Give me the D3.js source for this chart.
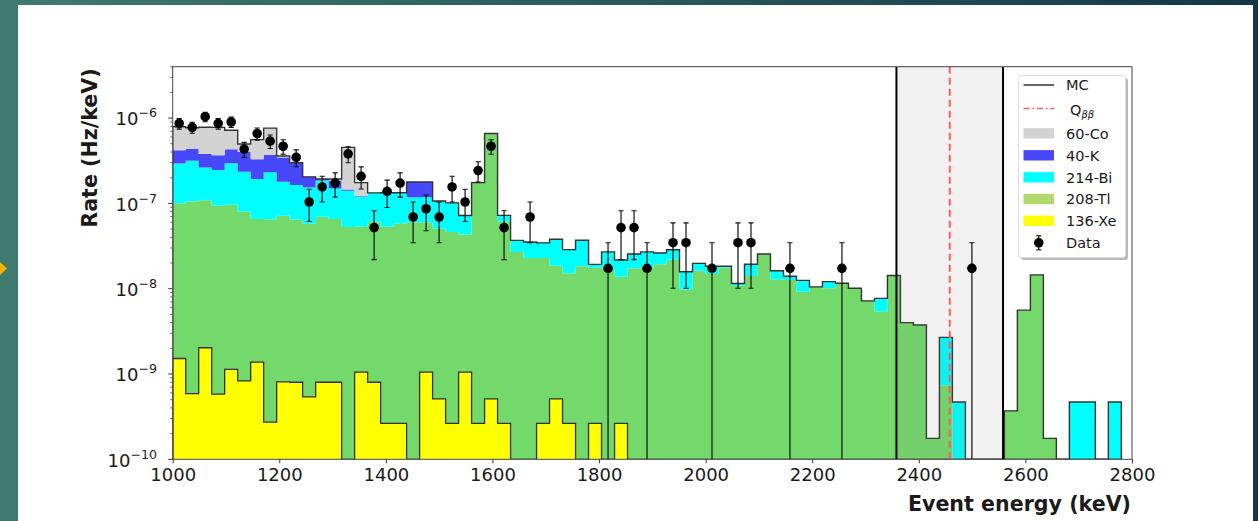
<!DOCTYPE html>
<html>
<head>
<meta charset="utf-8">
<script src="https://cdn.jsdelivr.net/npm/d3@7"></script>
<style>
  body { margin: 0; background: #fff; }
  svg { display: block; }
  text { font-family: "DejaVu Sans", sans-serif; fill: #1a1a1a; }
</style>
</head>
<body>
<svg id="chart" width="1258" height="521"></svg>
<script>
// binning of the histogram (keV)
var binLo = 1000
var binHi = 2780
var nBins = 73

// MC components, Hz/keV per bin
var xe = [1.52e-9, 5.9e-10, 2.03e-9, 5.8e-10, 1.13e-9, 8.3e-10, 1.38e-9, 2.73e-10, 8.1e-10, 8.0e-10,
          5.4e-10, 8.0e-10, 8.0e-10, 0, 1.05e-9, 8.0e-10, 2.64e-10, 2.64e-10, 0, 1.05e-9,
          5.1e-10, 2.64e-10, 1.05e-9, 2.64e-10, 5.1e-10, 2.64e-10, 0, 0, 2.64e-10, 5.1e-10,
          2.64e-10, 0, 2.64e-10, 0, 2.64e-10, 0, 0, 0, 0, 0,
          0, 0, 0, 0, 0, 0, 0, 0, 0, 0,
          0, 0, 0, 0, 0, 0, 0, 0, 0, 0,
          0, 0, 0, 0, 0, 0, 0, 0, 0, 0,
          0, 0, 0]
var tl = [9.85e-8, 1.05e-7, 1.07e-7, 9.4e-8, 9.5e-8, 7.9e-8, 6.4e-8, 6.5e-8, 7.1e-8, 6.4e-8,
          5.7e-8, 6.9e-8, 6.5e-8, 5.3e-8, 5.2e-8, 6.0e-8, 5.3e-8, 5.8e-8, 6.0e-8, 5.9e-8,
          5.0e-8, 4.6e-8, 4.2e-8, 1.75e-7, 6.6e-7, 6.1e-8, 2.7e-8, 2.29e-8, 2.26e-8, 1.81e-8,
          1.49e-8, 1.83e-8, 1.73e-8, 1.73e-8, 1.35e-8, 1.73e-8, 1.76e-8, 1.93e-8, 2.19e-8, 9.8e-9,
          1.62e-8, 1.49e-8, 1.76e-8, 1.08e-8, 1.41e-8, 2.55e-8, 1.29e-8, 1.26e-8, 9.2e-9, 1.05e-8,
          1.01e-8, 1.14e-8, 1.01e-8, 7.2e-9, 5.4e-9, 1.43e-8, 4.0e-9, 3.75e-9, 1.76e-10, 7.4e-10,
          0, 0, 0, 0, 3.7e-10, 5.6e-9, 1.45e-8, 1.76e-10, 0, 0,
          0, 0, 0]
var bi = [1.94e-7, 2.1e-7, 1.55e-7, 1.51e-7, 2.0e-7, 1.55e-7, 1.28e-7, 1.66e-7, 1.08e-7, 9.9e-8,
          9.6e-8, 1.15e-7, 8.4e-8, 8.8e-8, 6.7e-8, 7.2e-8, 8.0e-8, 7.5e-8, 5.8e-8, 5.8e-8,
          5.6e-8, 5.5e-8, 2.9e-8, 0, 0, 1.1e-8, 9.8e-9, 1.23e-8, 1.16e-8, 1.94e-8,
          1.35e-8, 1.87e-8, 1.7e-9, 9.7e-9, 7.9e-9, 8.2e-9, 9.4e-9, 6.9e-9, 6.7e-9, 6.0e-9,
          3.6e-9, 3.4e-9, 7e-10, 7e-10, 5.2e-9, 0, 3.3e-9, 1.4e-9, 3.3e-9, 0,
          2.0e-9, 2e-10, 0, 0, 2.3e-9, 0, 0, 0, 0, 1.95e-9,
          4.7e-10, 0, 0, 0, 0, 0, 0, 0, 0, 4.7e-10,
          4.7e-10, 0, 4.7e-10]
var k40 = [1.26e-7, 1.2e-7, 1.15e-7, 1.22e-7, 1.34e-7, 1.68e-7, 1.35e-7, 1.41e-7, 1.66e-7, 1.36e-7,
           5.1e-8, 8e-9, 3.5e-8, 4e-9, 2e-9, 0, 0, 0, 6.0e-8, 6.0e-8,
           0, 0, 0, 0, 0, 0, 0, 0, 0, 0,
           0, 0, 0, 0, 0, 0, 0, 0, 0, 0,
           0, 0, 0, 0, 0, 0, 0, 0, 0, 0,
           0, 0, 0, 0, 0, 0, 0, 0, 0, 0,
           0, 0, 0, 0, 0, 0, 0, 0, 0, 0,
           0, 0, 0]
var co = [3.7e-7, 3.34e-7, 4.0e-7, 4.1e-7, 2.9e-7, 9.3e-8, 2.3e-7, 3.9e-7, 1.3e-8, 0,
          0, 0, 8e-9, 3.08e-7, 5.3e-8, 0, 0, 0, 0, 0,
          0, 0, 0, 0, 0, 0, 0, 0, 0, 0,
          0, 0, 0, 0, 0, 0, 0, 0, 0, 0,
          0, 0, 0, 0, 0, 0, 0, 0, 0, 0,
          0, 0, 0, 0, 0, 0, 0, 0, 0, 0,
          0, 0, 0, 0, 0, 0, 0, 0, 0, 0,
          0, 0, 0]

// data: event counts per bin, and the rate of one count
var dataCounts = [50, 45, 60, 50, 52, 25, 38, 31, 27, 20,
                  6, 9, 10, 22, 12, 3, 8, 10, 4, 5,
                  4, 9, 6, 14, 27, 3, 0, 4, 0, 0,
                  0, 0, 0, 1, 3, 3, 1, 0, 2, 2,
                  0, 1, 0, 2, 2, 0, 0, 1, 0, 0,
                  0, 1, 0, 0, 0, 0, 0, 0, 0, 0,
                  0, 1, 0, 0, 0, 0, 0, 0, 0, 0,
                  0, 0, 0]
var countRate = 1.73e-8

var qbb = 2458
var roi = [2358, 2558]

var xTicks = [1000, 1200, 1400, 1600, 1800, 2000, 2200, 2400, 2600, 2800]
var yTicks = [1e-10, 1e-9, 1e-8, 1e-7, 1e-6]
var yTickExp = ['\u221210', '\u22129', '\u22128', '\u22127', '\u22126']

var series = [
  { key: 'xe', name: '136-Xe', values: xe, color: '#ffff00', legendColor: '#ffff00' },
  { key: 'tl', name: '208-Tl', values: tl, color: '#73d96b', legendColor: '#b3d86c' },
  { key: 'bi', name: '214-Bi', values: bi, color: '#00ffff', legendColor: '#00ffff' },
  { key: 'k', name: '40-K', values: k40, color: '#4848fb', legendColor: '#4848fb' },
  { key: 'co', name: '60-Co', values: co, color: '#d3d3d3', legendColor: '#d3d3d3' }
]

var ctx = { left: 172.7, right: 1132, top: 66.7, bottom: 459.3 }
var floorVal = 1e-11

var svg = d3.select('#chart')

// frame of the slide
var defs = svg.append('defs')
var grad = defs.append('linearGradient').attr('id', 'frame')
grad.append('stop').attr('offset', '0%').attr('stop-color', '#3e7b6e')
grad.append('stop').attr('offset', '100%').attr('stop-color', '#143748')
svg.append('rect').attr('width', 1258).attr('height', 521).attr('fill', 'url(#frame)')
svg.append('rect').attr('x', 18).attr('y', 5).attr('width', 1235).attr('height', 516).attr('fill', '#ffffff')
svg.append('polygon').attr('points', '0,262 7,268.5 0,275').attr('fill', '#f4b400')

defs.append('clipPath').attr('id', 'plotclip')
    .append('rect')
    .attr('x', ctx.left).attr('y', ctx.top)
    .attr('width', ctx.right - ctx.left).attr('height', ctx.bottom - ctx.top)

var x = d3.scaleLinear().domain([1000, 2800]).range([ctx.left, ctx.right])
var y = d3.scaleLog().domain([1e-10, 4e-6]).range([ctx.bottom, ctx.top]).clamp(true)
var yv = function (v) { return y(Math.max(v, floorVal)) }

var binW = (binHi - binLo) / nBins
var edges = d3.range(nBins + 1).map(i => binLo + i * binW)

var bins = d3.range(nBins).map(i => {
  var b = { i: i }
  series.forEach(s => { b[s.key] = s.values[i] })
  return b
})
var stacked = d3.stack().keys(series.map(s => s.key))(bins)

var plot = svg.append('g').attr('clip-path', 'url(#plotclip)')

// stacked histogram areas
var area = d3.area()
             .x(d => x(d.e))
             .y0(d => yv(d.lo))
             .y1(d => yv(d.hi))

stacked.forEach((layer, li) => {
  var pts = []
  layer.forEach((d, i) => {
    pts.push({ e: edges[i], lo: d[0], hi: d[1] })
    pts.push({ e: edges[i + 1], lo: d[0], hi: d[1] })
  })
  plot.append('path')
      .attr('d', area(pts))
      .attr('fill', series[li].color)
      .attr('stroke', 'none')
})

// step outlines: 136-Xe and the total MC
var stepLine = d3.line().x(d => x(d[0])).y(d => yv(d[1]))
var stepPoints = function (vals) {
  var pts = [[edges[0], 0]]
  vals.forEach((v, i) => { pts.push([edges[i], v]); pts.push([edges[i + 1], v]) })
  pts.push([edges[nBins], 0])
  return pts
}
var totals = stacked[stacked.length - 1].map(d => d[1])

plot.append('path')
    .attr('d', stepLine(stepPoints(xe)))
    .attr('fill', 'none')
    .attr('stroke', '#333')
    .attr('stroke-width', 1.3)

plot.append('path')
    .attr('d', stepLine(stepPoints(totals)))
    .attr('fill', 'none')
    .attr('stroke', '#333')
    .attr('stroke-width', 1.4)

// region of interest around Q_bb
plot.append('rect')
    .attr('x', x(roi[0]))
    .attr('y', ctx.top)
    .attr('width', x(roi[1]) - x(roi[0]))
    .attr('height', ctx.bottom - ctx.top)
    .attr('fill', '#808080')
    .attr('fill-opacity', 0.11)

roi.forEach(e => {
  plot.append('line')
      .attr('x1', x(e)).attr('x2', x(e))
      .attr('y1', ctx.top).attr('y2', ctx.bottom)
      .attr('stroke', '#000')
      .attr('stroke-width', 2)
})

plot.append('line')
    .attr('x1', x(qbb)).attr('x2', x(qbb))
    .attr('y1', ctx.top).attr('y2', ctx.bottom)
    .attr('stroke', '#ff5c5c')
    .attr('stroke-width', 2)
    .attr('stroke-dasharray', '7,4')

// data points with poisson error bars
var dataPts = []
dataCounts.forEach((n, i) => {
  if (n > 0) dataPts.push({ e: (edges[i] + edges[i + 1]) / 2, n: n })
})

dataPts.forEach(d => {
  var cx = x(d.e)
  var err = Math.sqrt(d.n)
  var yHi = yv((d.n + err) * countRate)
  var yLo = yv((d.n - err) * countRate)
  plot.append('line')
      .attr('x1', cx).attr('x2', cx)
      .attr('y1', yHi).attr('y2', yLo)
      .attr('stroke', '#111')
      .attr('stroke-width', 1.2)
  plot.append('line')
      .attr('x1', cx - 2.6).attr('x2', cx + 2.6)
      .attr('y1', yHi).attr('y2', yHi)
      .attr('stroke', '#111')
      .attr('stroke-width', 1.1)
  if (d.n - err > 0) {
    plot.append('line')
        .attr('x1', cx - 2.6).attr('x2', cx + 2.6)
        .attr('y1', yLo).attr('y2', yLo)
        .attr('stroke', '#111')
        .attr('stroke-width', 1.1)
  }
  plot.append('circle')
      .attr('cx', cx)
      .attr('cy', yv(d.n * countRate))
      .attr('r', 4.8)
      .attr('fill', '#000')
})

// axes
var xAxis = svg.append('g')
               .attr('transform', 'translate(0,' + ctx.bottom + ')')
               .call(d3.axisBottom(x).tickValues(xTicks).tickSize(4).tickPadding(5).tickFormat(d3.format('d')))
xAxis.select('.domain').remove()
xAxis.selectAll('line').attr('stroke', '#333')
xAxis.selectAll('text').attr('font-size', 18).attr('fill', '#1a1a1a').attr('font-family', '"DejaVu Sans", sans-serif')

var minor = []
for (var p = -10; p <= -6; p++) {
  for (var m = 2; m <= 9; m++) {
    var v = m * Math.pow(10, p)
    if (v <= 4e-6) minor.push(v)
  }
}
svg.selectAll('.yminor')
   .data(minor)
   .enter().append('line')
   .attr('x1', ctx.left - 2.5).attr('x2', ctx.left)
   .attr('y1', d => y(d)).attr('y2', d => y(d))
   .attr('stroke', '#444')
   .attr('stroke-width', 0.8)

yTicks.forEach((t, i) => {
  svg.append('line')
     .attr('x1', ctx.left - 4.5).attr('x2', ctx.left)
     .attr('y1', y(t)).attr('y2', y(t))
     .attr('stroke', '#333')
     .attr('stroke-width', 1)
  var lab = svg.append('text')
               .attr('x', 157)
               .attr('y', y(t) + 7.3)
               .attr('text-anchor', 'end')
               .attr('font-size', 18)
  lab.append('tspan').text('10')
  lab.append('tspan').attr('dy', -8).attr('font-size', 12.6).text(yTickExp[i])
})

// frame of the axes
svg.append('rect')
   .attr('x', ctx.left).attr('y', ctx.top)
   .attr('width', ctx.right - ctx.left).attr('height', ctx.bottom - ctx.top)
   .attr('fill', 'none')
   .attr('stroke', '#444')
   .attr('stroke-width', 1)

svg.append('text')
   .attr('x', 1131)
   .attr('y', 511)
   .attr('text-anchor', 'end')
   .attr('font-size', 20.6)
   .attr('font-weight', 'bold')
   .text('Event energy (keV)')

svg.append('text')
   .attr('transform', 'translate(97,148) rotate(-90)')
   .attr('text-anchor', 'middle')
   .attr('font-size', 20.6)
   .attr('font-weight', 'bold')
   .text('Rate (Hz/keV)')

// legend
var legend = svg.append('g').attr('id', 'legend')
legend.append('rect')
      .attr('x', 1021).attr('y', 78)
      .attr('width', 107).attr('height', 182)
      .attr('rx', 3)
      .attr('fill', '#000')
      .attr('fill-opacity', 0.28)
legend.append('rect')
      .attr('x', 1018.5).attr('y', 75.5)
      .attr('width', 107).attr('height', 182)
      .attr('rx', 3)
      .attr('fill', '#fff')
      .attr('stroke', '#dddddd')
      .attr('stroke-width', 1)

var hx0 = 1023.5
var hx1 = 1054
var tx = 1066
var legendFont = 14.5

legend.append('line')
      .attr('x1', hx0).attr('x2', hx1).attr('y1', 85).attr('y2', 85)
      .attr('stroke', '#333').attr('stroke-width', 1.5)
legend.append('text')
      .attr('x', tx).attr('y', 85).attr('dy', '0.36em')
      .attr('font-size', legendFont).text('MC')

legend.append('line')
      .attr('x1', hx0).attr('x2', hx1).attr('y1', 108.5).attr('y2', 108.5)
      .attr('stroke', '#ff5c5c').attr('stroke-width', 1.6).attr('stroke-dasharray', '6,3,1.5,3')
var qText = legend.append('text')
                  .attr('x', tx + 4).attr('y', 114.5)
                  .attr('font-size', legendFont)
qText.append('tspan').text('Q')
qText.append('tspan').attr('dy', 3).attr('font-size', 10).attr('font-style', 'italic').text('\u03b2\u03b2')

var patchRows = [
  { s: series[4], yc: 133.3 },
  { s: series[3], yc: 155.3 },
  { s: series[2], yc: 177.3 },
  { s: series[1], yc: 199 },
  { s: series[0], yc: 220.8 }
]
patchRows.forEach(r => {
  legend.append('rect')
        .attr('x', hx0).attr('y', r.yc - 5.2)
        .attr('width', hx1 - hx0).attr('height', 10.4)
        .attr('fill', r.s.legendColor)
  legend.append('text')
        .attr('x', tx).attr('y', r.yc).attr('dy', '0.36em')
        .attr('font-size', legendFont).text(r.s.name)
})

var dY = 242.8
var dX = (hx0 + hx1) / 2
legend.append('line')
      .attr('x1', dX).attr('x2', dX).attr('y1', dY - 7).attr('y2', dY + 7)
      .attr('stroke', '#111').attr('stroke-width', 1.2)
legend.append('line')
      .attr('x1', dX - 2.6).attr('x2', dX + 2.6).attr('y1', dY - 7).attr('y2', dY - 7)
      .attr('stroke', '#111').attr('stroke-width', 1.1)
legend.append('line')
      .attr('x1', dX - 2.6).attr('x2', dX + 2.6).attr('y1', dY + 7).attr('y2', dY + 7)
      .attr('stroke', '#111').attr('stroke-width', 1.1)
legend.append('circle')
      .attr('cx', dX).attr('cy', dY).attr('r', 4.8).attr('fill', '#000')
legend.append('text')
      .attr('x', tx).attr('y', dY).attr('dy', '0.36em')
      .attr('font-size', legendFont).text('Data')
</script>
</body>
</html>
